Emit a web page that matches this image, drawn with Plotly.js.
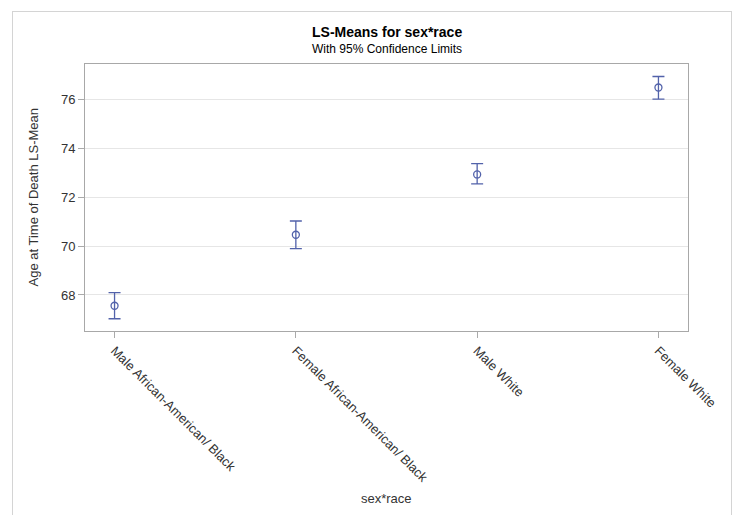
<!DOCTYPE html>
<html>
<head>
<meta charset="utf-8">
<script src="https://cdn.plot.ly/plotly-3.0.1.min.js"></script>
<style>
  html, body { margin: 0; padding: 0; background: #fff; }
  #wrap { position: relative; width: 734px; height: 515px; overflow: hidden; }
  #chart { width: 734px; height: 515px; }
  #frame { position: absolute; left: 12px; top: 11px; width: 720px; height: 520px;
           border: 1px solid #d4d4d4; pointer-events: none; box-sizing: border-box; }
</style>
</head>
<body>
<div id="wrap">
  <div id="chart"></div>
  <div id="frame"></div>
</div>
<script>
const categories = ["Male African-American/ Black", "Female African-American/ Black", "Male White", "Female White"];
const lsMeans = [67.56, 70.46, 72.92, 76.47];
const lowerCL = [67.03, 69.89, 72.54, 76.00];
const upperCL = [68.10, 71.02, 73.36, 76.92];
const yTicks = [68, 70, 72, 74, 76];

const markColor = "#5262aa";
const xIdx = categories.map((c, i) => i);

const trace = {
  type: "scatter",
  mode: "markers",
  x: xIdx,
  y: lsMeans,
  marker: { symbol: "circle-open", size: 7, color: markColor, line: { width: 1.3, color: markColor } },
  error_y: {
    type: "data",
    symmetric: false,
    array: upperCL.map((u, i) => u - lsMeans[i]),
    arrayminus: lsMeans.map((m, i) => m - lowerCL[i]),
    color: markColor,
    thickness: 1.3,
    width: 6
  },
  hoverinfo: "x+y",
  showlegend: false
};

const font = "Liberation Sans, Arial, sans-serif";

const layout = {
  width: 734,
  height: 515,
  margin: { l: 85, r: 46, t: 64, b: 184 },
  paper_bgcolor: "#ffffff",
  plot_bgcolor: "#ffffff",
  font: { family: font, size: 12, color: "#333333" },
  xaxis: {
    range: [-0.163, 3.163],
    tickmode: "array",
    tickvals: xIdx,
    ticktext: categories,
    tickangle: 45,
    ticks: "outside",
    ticklen: 6,
    tickcolor: "#aaaaaa",
    tickfont: { family: font, size: 13, color: "#333333" },
    showgrid: false,
    zeroline: false,
    showline: true,
    linecolor: "#a8a8a8",
    linewidth: 1,
    mirror: true,
    automargin: false
  },
  yaxis: {
    range: [66.53, 77.43],
    tickmode: "array",
    tickvals: yTicks,
    ticktext: yTicks.map(String),
    ticks: "outside",
    ticklen: 6,
    tickcolor: "#aaaaaa",
    tickfont: { family: font, size: 13, color: "#333333" },
    showgrid: true,
    gridcolor: "#e6e6e6",
    gridwidth: 1,
    zeroline: false,
    showline: true,
    linecolor: "#a8a8a8",
    linewidth: 1,
    mirror: true,
    automargin: false
  },
  annotations: [
    { text: "<b>LS-Means for sex*race</b>", xref: "paper", yref: "paper", x: 0.5, y: 1, yshift: 32,
      xanchor: "center", yanchor: "middle", showarrow: false, font: { family: font, size: 14, color: "#000000" } },
    { text: "With 95% Confidence Limits", xref: "paper", yref: "paper", x: 0.5, y: 1, yshift: 15,
      xanchor: "center", yanchor: "middle", showarrow: false, font: { family: font, size: 12, color: "#000000" } },
    { text: "Age at Time of Death LS-Mean", xref: "paper", yref: "paper", x: 0, y: 0.5, xshift: -52,
      xanchor: "center", yanchor: "middle", textangle: -90, showarrow: false,
      font: { family: font, size: 13, color: "#333333" } },
    { text: "sex*race", xref: "paper", yref: "paper", x: 0.5, y: 0, yshift: -167,
      xanchor: "center", yanchor: "middle", showarrow: false,
      font: { family: font, size: 13, color: "#333333" } }
  ]
};

Plotly.newPlot("chart", [trace], layout, { displayModeBar: false, staticPlot: true });
</script>
</body>
</html>
